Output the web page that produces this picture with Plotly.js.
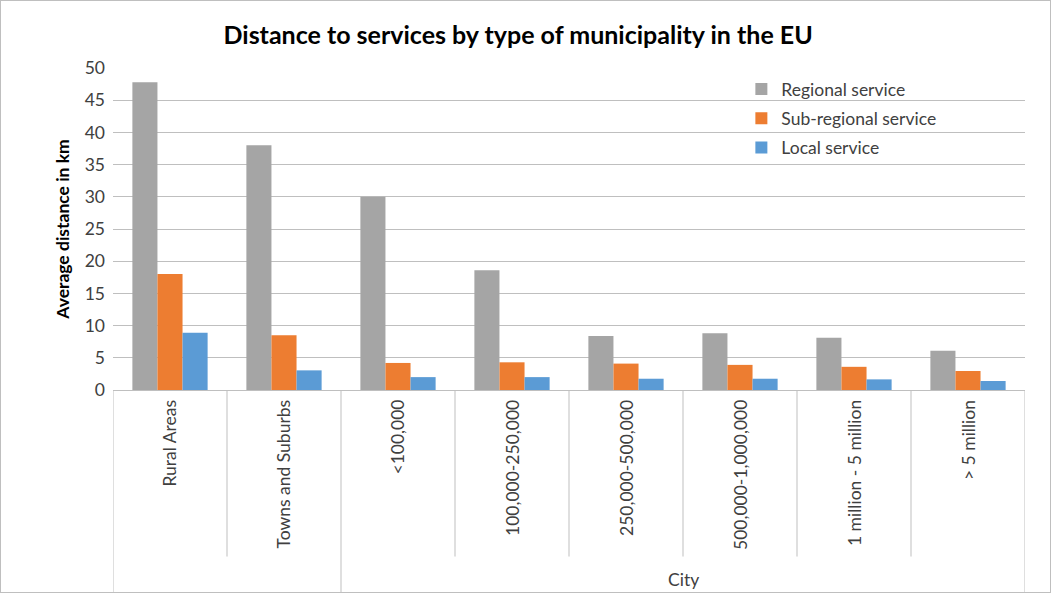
<!DOCTYPE html>
<html>
<head>
<meta charset="utf-8">
<script src="https://cdn.plot.ly/plotly-3.0.1.min.js"></script>
<style>
html,body{margin:0;padding:0;background:#fff;}
#chart{width:1051px;height:593px;box-sizing:border-box;border:1px solid #BFBFBF;}
</style>
</head>
<body>
<div id="chart"></div>
<script>
var categories = ["Rural Areas", "Towns and Suburbs", "<100,000", "100,000-250,000", "250,000-500,000", "500,000-1,000,000", "1 million - 5 million", "> 5 million"];
var groupLabels = ["", "City"];
var groupSizes = [2, 6];
var regional = [47.8, 38.0, 30.0, 18.6, 8.4, 8.8, 8.1, 6.1];
var subRegional = [18.0, 8.5, 4.2, 4.3, 4.1, 3.9, 3.6, 2.95];
var local = [8.9, 3.05, 2.0, 2.0, 1.75, 1.75, 1.65, 1.4];

var FONT = "Lato, 'Open Sans', sans-serif";
var FS = 17.5;
var idx = categories.map(function(_, i){ return i; });

function bar(name, y, color, grp){
  return {type:'bar', name:name, x:idx, y:y, marker:{color:color}, hoverinfo:'y', legendgroup:grp};
}
var data = [
  bar('Regional service', regional, '#A5A5A5', 'g0'),
  bar('Sub-regional service', subRegional, '#ED7D31', 'g1'),
  bar('Local service', local, '#5B9BD5', 'g2')
];

var plotTop = 68, plotBottom = 389, plotH = plotBottom - plotTop;
var innerDepth = -(555 - plotBottom) / plotH;
var outerDepth = -(591 - plotBottom) / plotH;
var shapes = [];
var annotations = [];
var groupStarts = [];
var s = 0;
groupSizes.forEach(function(n){ groupStarts.push(s); s += n; });
for (var b = 0; b <= categories.length; b++) {
  var isOuter = groupStarts.indexOf(b) >= 0 || b === categories.length;
  shapes.push({type:'line', xref:'x', yref:'paper', x0:b-0.5, x1:b-0.5, y0:0, y1: isOuter ? outerDepth : innerDepth,
    line:{color:'#BFBFBF', width:1}});
}
categories.forEach(function(c, i){
  annotations.push({xref:'x', yref:'paper', x:i, y:-(397 - plotBottom)/plotH, text:c.replace(/</g,'&lt;').replace(/>/g,'&gt;'),
    textangle:-90, showarrow:false, xanchor:'center', yanchor:'top', font:{family:FONT, size:FS, color:'#404040'}});
});
groupLabels.forEach(function(g, k){
  if (!g) return;
  var center = groupStarts[k] + (groupSizes[k]-1)/2;
  annotations.push({xref:'x', yref:'paper', x:center, y:-(578 - plotBottom)/plotH, text:g, showarrow:false,
    xanchor:'center', yanchor:'middle', font:{family:FONT, size:FS, color:'#404040'}});
});

var layout = {
  width:1049, height:591,
  margin:{l:112, r:25, t:67, b:202, pad:0},
  paper_bgcolor:'#fff', plot_bgcolor:'#fff',
  font:{family:FONT, size:FS, color:'#404040'},
  title:{text:'<b>Distance to services by type of municipality in the EU</b>', x:0.493, xanchor:'center', y:0.942, yanchor:'middle',
    font:{family:FONT, size:25, color:'#000'}},
  barmode:'group', bargap:0.34, bargroupgap:0,
  xaxis:{type:'linear', range:[-0.5, categories.length-0.5], showticklabels:false, ticks:'', showgrid:false, zeroline:false,
    showline:true, linecolor:'#BFBFBF', linewidth:1, fixedrange:true},
  yaxis:{range:[0,50], dtick:5, tick0:0, showgrid:true, gridcolor:'#BFBFBF', gridwidth:1, zeroline:false,
    ticks:'', tickfont:{family:FONT, size:FS, color:'#404040'}, ticklabelstandoff:7,
    title:{text:'<b>Average distance in km</b>', font:{family:FONT, size:17.5, color:'#000'}, standoff:10}},
  legend:{x:0.689, y:0.99, xanchor:'left', yanchor:'top', bgcolor:'rgba(0,0,0,0)', font:{family:FONT, size:FS, color:'#404040'},
    tracegroupgap:3.5, traceorder:'grouped'},
  shapes:shapes,
  annotations:annotations,
  showlegend:true
};

Plotly.newPlot('chart', data, layout, {displayModeBar:false, staticPlot:true});
</script>
</body>
</html>
